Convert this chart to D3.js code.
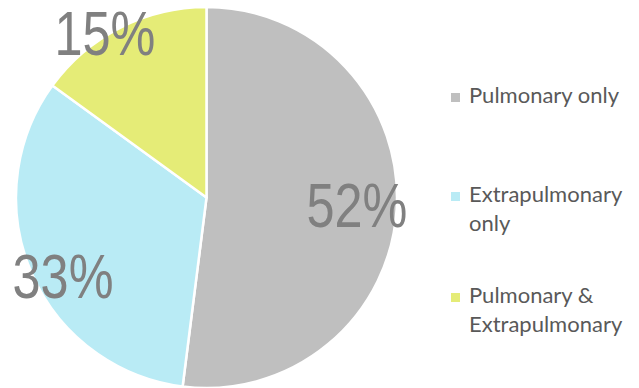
<!DOCTYPE html>
<html>
<head>
<meta charset="utf-8">
<script src="https://cdn.jsdelivr.net/npm/d3@7"></script>
<style>
  body { margin: 0; background: #fff; }
  #chart { width: 639px; height: 388px; }
</style>
</head>
<body>
<div id="chart"></div>
<script>
const categories = ["Pulmonary only", "Extrapulmonary only", "Pulmonary & Extrapulmonary"];
const legendLines = [["Pulmonary only"], ["Extrapulmonary", "only"], ["Pulmonary &", "Extrapulmonary"]];
const values = [52, 33, 15];
const colors = ["#bfbfbf", "#b9ebf5", "#e5ec77"];

const width = 639, height = 388;
const cx = 206.5, cy = 197.5, radius = 190.5;
// excel "best fit" label placement: radius fraction and angle shift (deg) from mid angle
const labelRadius = [0.79, 0.857, 1.017];
const labelShift = [-0.9, -5.1, -4.6];

const svg = d3.select("#chart").append("svg")
    .attr("width", width).attr("height", height);

const pie = d3.pie().sort(null).value(d => d);
const arc = d3.arc().innerRadius(0).outerRadius(radius);
const arcs = pie(values);
const total = d3.sum(values);

const g = svg.append("g").attr("transform", `translate(${cx},${cy})`);

g.selectAll("path")
    .data(arcs).enter().append("path")
    .attr("d", arc)
    .attr("fill", (d, i) => colors[i])
    .attr("stroke", "#fff")
    .attr("stroke-width", 2.5)
    .attr("stroke-linejoin", "round");

g.selectAll("text.pct")
    .data(arcs).enter().append("text")
    .attr("class", "pct")
    .attr("transform", (d, i) => {
        const a = (d.startAngle + d.endAngle) / 2 + labelShift[i] * Math.PI / 180;
        const r = radius * labelRadius[i];
        const x = r * Math.sin(a), y = -r * Math.cos(a);
        return `translate(${x},${y + 22.5}) scale(0.8,1)`;
    })
    .attr("text-anchor", "middle")
    .attr("font-family", "'Liberation Sans', Arial, sans-serif")
    .attr("font-size", 63)
    .attr("fill", "#808080")
    .text(d => Math.round(d.data / total * 100) + "%");

const legendY = [103, 202, 303];
const legend = svg.append("g").selectAll("g")
    .data(categories).enter().append("g")
    .attr("transform", (d, i) => `translate(451,${legendY[i]})`);

legend.append("rect")
    .attr("x", 0).attr("y", -10)
    .attr("width", 9).attr("height", 9)
    .attr("fill", (d, i) => colors[i]);

legend.append("text")
    .attr("x", 18)
    .attr("font-family", "Lato, 'Open Sans', sans-serif")
    .attr("font-size", 22)
    .attr("fill", "#595959")
    .selectAll("tspan")
    .data((d, i) => legendLines[i]).enter().append("tspan")
    .attr("x", 18)
    .attr("dy", (d, j) => j === 0 ? 0 : 29)
    .text(d => d);
</script>
</body>
</html>
